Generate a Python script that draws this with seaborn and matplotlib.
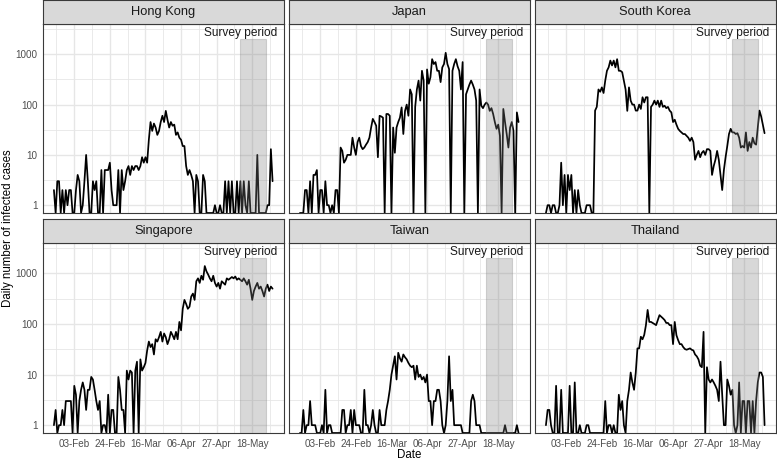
import numpy as np
import pandas as pd
import matplotlib
matplotlib.use("Agg")
import matplotlib.pyplot as plt
import matplotlib.dates as mdates
from matplotlib.patches import Rectangle
from matplotlib.ticker import FixedLocator, NullFormatter
import seaborn as sns

# ---------------- data ----------------
countries = ["Hong Kong", "Japan", "South Korea", "Singapore", "Taiwan", "Thailand"]
start_date = "2020-01-22"
n_days = 130

hong_kong = [2, 0, 3, 3, 0, 2, 0, 2, 1, 2,
             2, 0, 0, 2, 4, 3, 0, 1, 3, 10,
             3, 0, 0, 3, 2, 3, 0, 0, 5, 0,
             5, 5, 5, 7, 2, 1, 1, 1, 5, 0,
             5, 2, 3, 5, 6, 4, 6, 5, 6, 6,
             5, 6, 9, 7, 9, 7, 20, 45, 30, 42,
             35, 25, 30, 45, 60, 45, 75, 50, 35, 45,
             38, 40, 25, 28, 22, 20, 15, 15, 6, 4,
             5, 4, 3, 0, 4, 3, 0, 0, 4, 3,
             0, 0, 0, 0, 0, 1, 0, 0, 1, 0,
             0, 3, 0, 3, 0, 3, 0, 0, 3, 0,
             3, 0, 3, 1, 0, 3, 0, 0, 0, 0,
             10, 0, 0, 0, 0, 0, 1, 1, 13, 3]

japan = [0, 0, 0, 2, 2, 0, 3, 0, 4, 4,
         5, 0, 2, 2, 0, 3, 1, 1, 0, 1,
         0, 2, 2, 0, 14, 12, 7, 8, 10, 10,
         10, 22, 14, 10, 18, 22, 15, 13, 14, 16,
         18, 22, 35, 52, 45, 38, 9, 60, 58, 55,
         0, 65, 65, 60, 0, 35, 11, 35, 45, 55,
         88, 26, 75, 100, 60, 200, 160, 0, 90, 200,
         300, 120, 470, 300, 0, 500, 260, 350, 800, 640,
         700, 470, 470, 280, 550, 640, 1070, 640, 510, 0,
         470, 640, 800, 580, 470, 200, 700, 0, 160, 200,
         250, 300, 250, 200, 120, 0, 200, 95, 85, 100,
         110, 100, 75, 85, 65, 45, 33, 40, 24, 0,
         82, 45, 26, 14, 35, 45, 30, 0, 70, 45]

south_korea = [0, 1, 1, 0, 1, 1, 0, 0, 1, 7,
               1, 4, 0, 4, 2, 4, 0, 2, 0, 2,
               1, 0, 0, 0, 1, 1, 1, 0, 0, 76,
               90, 200, 180, 220, 170, 300, 470, 550, 750, 600,
               750, 550, 800, 470, 470, 440, 300, 200, 75, 220,
               120, 100, 100, 76, 76, 100, 82, 140, 110, 140,
               140, 0, 90, 100, 120, 100, 120, 90, 120, 90,
               95, 85, 90, 76, 70, 45, 50, 40, 33, 30,
               28, 26, 26, 24, 22, 19, 22, 18, 8, 10,
               12, 9, 11, 12, 10, 13, 13, 12, 4, 6,
               8, 12, 8, 4, 2, 5, 9, 15, 26, 33,
               28, 28, 26, 27, 22, 14, 15, 14, 28, 12,
               18, 14, 22, 17, 16, 35, 76, 58, 40, 27]

singapore = [1, 2, 0, 1, 1, 2, 1, 3, 3, 3,
             3, 0, 6, 4, 0, 3, 5, 7, 5, 2,
             5, 5, 9, 8, 5, 3, 2, 3, 0, 1,
             1, 0, 4, 0, 2, 2, 0, 0, 9, 5,
             2, 2, 0, 12, 8, 12, 11, 0, 12, 18,
             0, 20, 12, 14, 17, 30, 45, 35, 40, 25,
             50, 45, 55, 70, 45, 65, 55, 40, 50, 70,
             60, 50, 70, 50, 110, 75, 200, 300, 250, 200,
             220, 350, 400, 300, 700, 800, 650, 900, 750, 1400,
             1100, 950, 800, 700, 900, 650, 550, 650, 500, 700,
             650, 600, 800, 750, 800, 850, 800, 870, 750, 800,
             750, 700, 800, 700, 600, 750, 500, 300, 450, 550,
             650, 500, 550, 450, 350, 500, 600, 450, 550, 500]

taiwan = [0, 0, 2, 0, 1, 1, 3, 1, 1, 1,
          0, 0, 0, 1, 0, 5, 0, 1, 1, 0,
          0, 0, 0, 0, 0, 2, 2, 0, 1, 1,
          2, 0, 2, 1, 1, 1, 0, 0, 5, 1,
          1, 0, 1, 2, 1, 0, 0, 2, 1, 1,
          1, 2, 3, 5, 10, 15, 23, 8, 27, 21,
          18, 25, 22, 20, 17, 15, 14, 15, 8, 15,
          9, 10, 8, 9, 7, 10, 3, 3, 1, 3,
          3, 5, 5, 3, 1, 0, 1, 3, 23, 3,
          5, 1, 1, 1, 1, 1, 0, 0, 0, 0,
          0, 3, 4, 3, 1, 1, 1, 0, 0, 0,
          0, 0, 0, 0, 0, 0, 0, 0, 0, 0,
          0, 1, 0, 0, 0, 0, 0, 0, 1, 0]

thailand = [1, 2, 2, 1, 0, 0, 6, 0, 0, 5,
            0, 0, 0, 0, 6, 0, 0, 7, 0, 0,
            1, 0, 0, 0, 1, 1, 0, 0, 0, 0,
            0, 0, 0, 0, 0, 3, 0, 1, 1, 0,
            1, 0, 0, 4, 2, 3, 1, 0, 3, 5,
            11, 7, 5, 11, 33, 33, 56, 50, 61, 95,
            190, 110, 110, 105, 100, 95, 120, 150, 140, 130,
            120, 105, 105, 95, 95, 40, 110, 60, 48, 40,
            40, 35, 32, 31, 32, 33, 31, 30, 25, 23,
            20, 15, 14, 70, 0, 14, 8, 7, 8, 7,
            6, 5, 3, 18, 4, 1, 1, 8, 6, 4,
            5, 1, 0, 1, 7, 0, 3, 3, 0, 3,
            3, 0, 3, 0, 3, 7, 11, 11, 9, 1]

series = [hong_kong, japan, south_korea, singapore, taiwan, thailand]

tick_dates = ["2020-02-03", "2020-02-24", "2020-03-16", "2020-04-06", "2020-04-27", "2020-05-18"]
tick_labels = ["03-Feb", "24-Feb", "16-Mar", "06-Apr", "27-Apr", "18-May"]
y_ticks = [1, 10, 100, 1000]
y_tick_labels = ["1", "10", "100", "1000"]

survey_start = "2020-05-11"
survey_end = "2020-05-26"
survey_top = 2000
survey_text = "Survey period"
survey_text_y = 2700

x_label = "Date"
y_label = "Daily number of infected cases"

# ---------------- style ----------------
sns.set_style("white")
plt.rcParams["font.family"] = ["Liberation Sans", "DejaVu Sans"]

Y_MIN, Y_MAX = 0.70, 4000
dates = pd.date_range(start_date, periods=n_days, freq="D")
frames = []
for name, vals in zip(countries, series):
    assert len(vals) == n_days, name
    v = np.asarray(vals, dtype=float)
    frames.append(pd.DataFrame({"date": dates, "country": name, "cases": v,
                                "plot_cases": np.where(v > 0, v, Y_MIN)}))
df = pd.concat(frames, ignore_index=True)

W, H = 777, 462
fig = plt.figure(figsize=(W / 100, H / 100), dpi=100)
fig.patch.set_facecolor("white")

col_x = [43, 289, 535]
panel_w = 240.5
row_top = [24, 243]
row_h = [189, 190]
strip_h = 24

d0 = mdates.date2num(pd.Timestamp(start_date))
x_lo = d0 - 6.45
x_hi = d0 + (n_days - 1) + 6.45
major = [mdates.date2num(pd.Timestamp(t)) for t in tick_dates]
minor = [m - 10.5 for m in major] + [major[-1] + 10.5]
s0 = mdates.date2num(pd.Timestamp(survey_start))
s1 = mdates.date2num(pd.Timestamp(survey_end))

border = "#3A3A3A"
grid_c = "#E6E6E6"
for i, name in enumerate(countries):
    r, c = divmod(i, 3)
    left = col_x[c] / W
    bottom = 1 - (row_top[r] + row_h[r]) / H
    ax = fig.add_axes([left, bottom, panel_w / W, row_h[r] / H])
    sub = df[df["country"] == name]
    sns.lineplot(data=sub, x="date", y="plot_cases", ax=ax, color="black",
                 linewidth=1.25, estimator=None, errorbar=None, zorder=3)
    ax.set_yscale("log")
    ax.set_ylim(Y_MIN, Y_MAX)
    ax.set_xlim(x_lo, x_hi)
    ax.set_xlabel("")
    ax.set_ylabel("")

    ax.xaxis.set_major_locator(FixedLocator(major))
    ax.xaxis.set_minor_locator(FixedLocator(minor))
    ax.yaxis.set_major_locator(FixedLocator(y_ticks))
    ax.yaxis.set_minor_locator(FixedLocator([10 ** (k + 0.5) for k in range(-1, 4)]))
    ax.xaxis.set_minor_formatter(NullFormatter())
    ax.yaxis.set_minor_formatter(NullFormatter())
    if r == 1:
        ax.set_xticklabels(tick_labels)
    else:
        ax.set_xticklabels([])
    if c == 0:
        ax.set_yticklabels(y_tick_labels)
    else:
        ax.set_yticklabels([])

    ax.tick_params(axis="x", which="major", length=3.5 / 1.39 if r == 1 else 0,
                   width=0.8, color=border, pad=2.0, labelsize=7.1, labelcolor="#4D4D4D")
    ax.tick_params(axis="y", which="major", length=3.5 / 1.39 if c == 0 else 0,
                   width=0.8, color=border, pad=1.3, labelsize=7.1, labelcolor="#4D4D4D")
    ax.tick_params(which="minor", length=0)

    ax.grid(which="major", color=grid_c, linewidth=1.0)
    ax.grid(which="minor", color=grid_c, linewidth=0.6)
    ax.set_axisbelow(True)
    for sp in ax.spines.values():
        sp.set_color(border)
        sp.set_linewidth(0.8)
        sp.set_visible(True)

    rect = Rectangle((s0, 0.3), s1 - s0, survey_top - 0.3, facecolor="#7F7F7F",
                     edgecolor="#7F7F7F", alpha=0.3, linewidth=0.8, zorder=4)
    ax.add_patch(rect)
    ax.text(s0, survey_text_y, survey_text, ha="center", va="center",
            fontsize=8.6, color="#1A1A1A", zorder=5)

    # facet strip
    sax = fig.add_axes([left, 1 - row_top[r] / H, panel_w / W, strip_h / H])
    sax.set_facecolor("#D9D9D9")
    sax.set_xticks([])
    sax.set_yticks([])
    for sp in sax.spines.values():
        sp.set_color(border)
        sp.set_linewidth(0.8)
        sp.set_visible(True)
    sax.text(0.5, 0.5, name, ha="center", va="center", fontsize=9.3,
             color="#1A1A1A", transform=sax.transAxes)

fig.text(409 / W, 1 - 455 / H, x_label, ha="center", va="center", fontsize=8.3, color="black")
fig.text(8 / W, 1 - 228 / H, y_label, ha="center", va="center", rotation=90,
         fontsize=8.3, color="black")

fig.savefig("out.png", dpi=100, facecolor="white")
